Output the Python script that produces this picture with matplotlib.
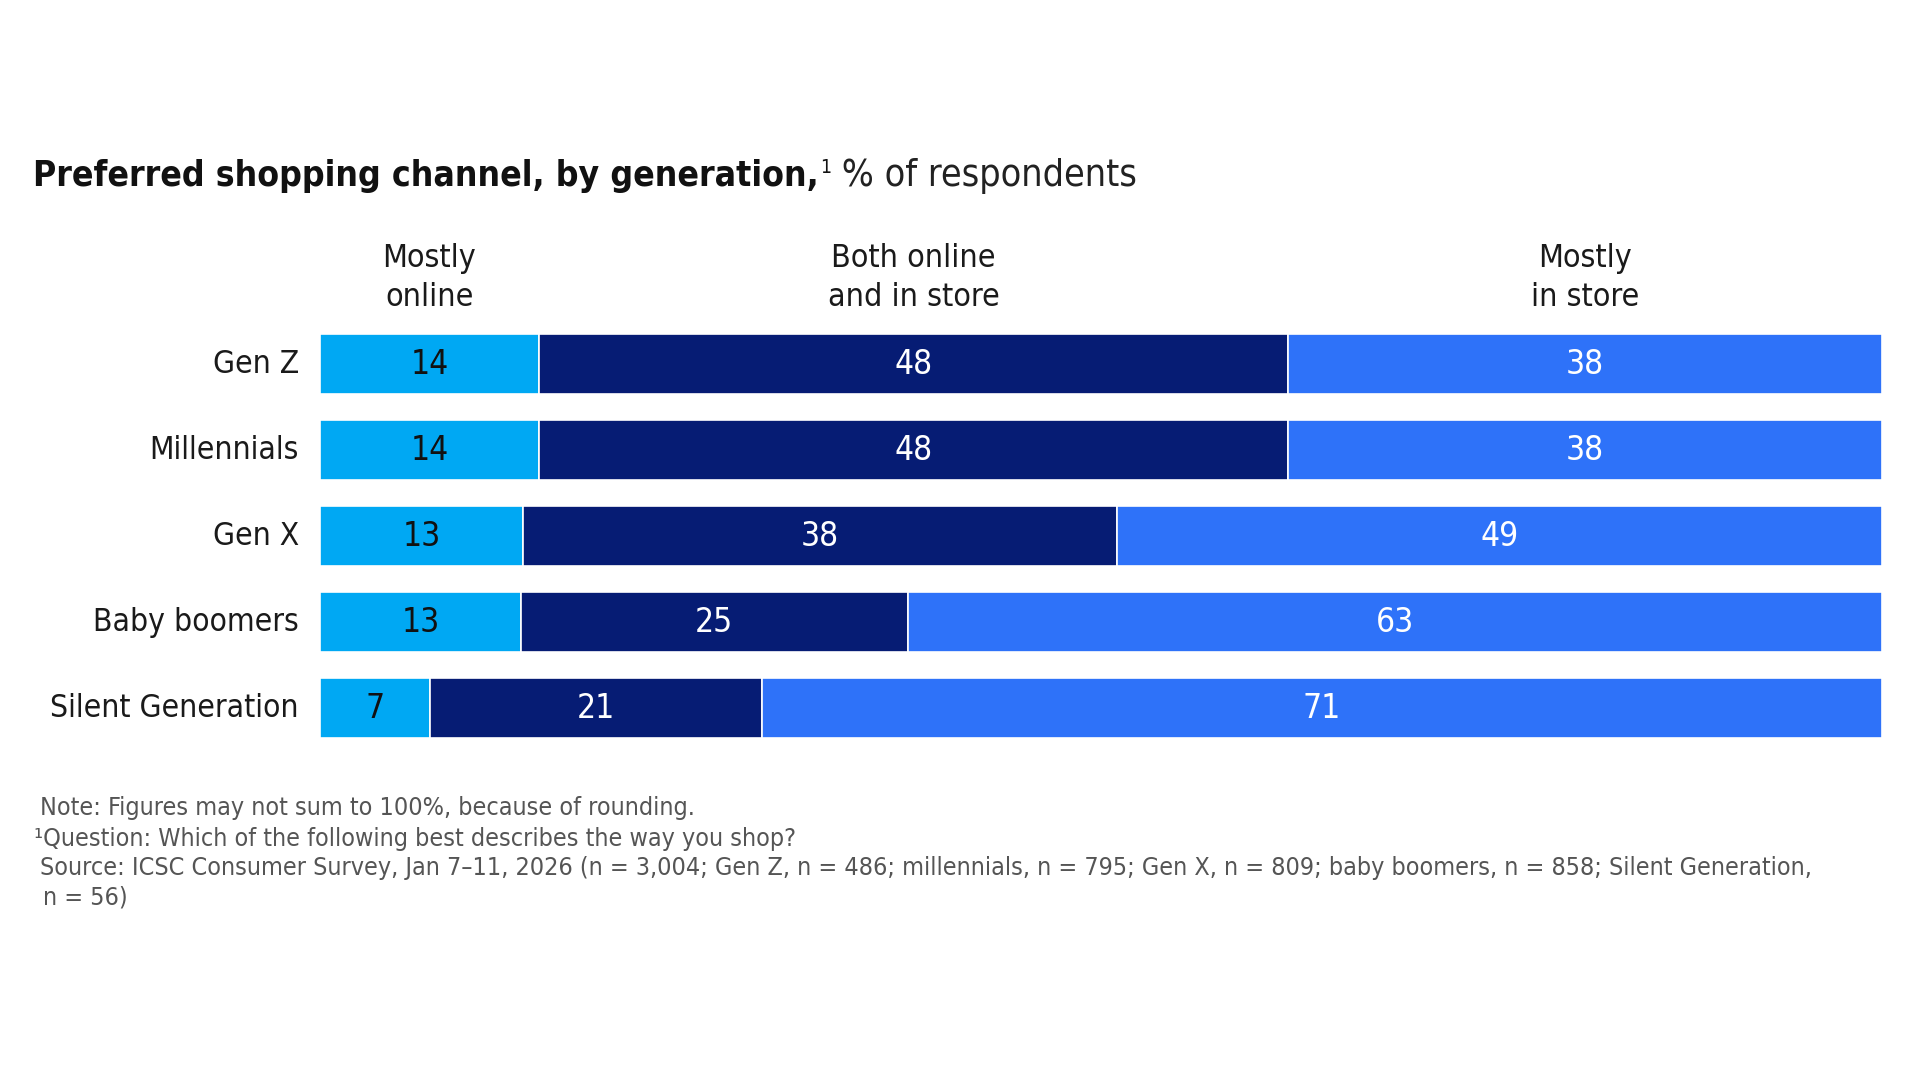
import matplotlib
matplotlib.use("Agg")
import matplotlib.pyplot as plt
from matplotlib.transforms import blended_transform_factory
import numpy as np

# ---- data ----
generations = ["Gen Z", "Millennials", "Gen X", "Baby boomers", "Silent Generation"]
mostly_online = [14, 14, 13, 13, 7]
both_channels = [48, 48, 38, 25, 21]
mostly_in_store = [38, 38, 49, 63, 71]
series_names = ["Mostly\nonline", "Both online\nand in store", "Mostly\nin store"]
colors = ["#00A8F3", "#061C74", "#2E72F9"]
label_colors = ["#111111", "white", "white"]

title_bold = "Preferred shopping channel, by generation,"
title_sup = "1"
title_rest = " % of respondents"
notes = [
    "Note: Figures may not sum to 100%, because of rounding.",
    "\u00b9Question: Which of the following best describes the way you shop?",
    "Source: ICSC Consumer Survey, Jan 7\u201311, 2026 (n = 3,004; Gen Z, n = 486; millennials, n = 795; Gen X, n = 809; baby boomers, n = 858; Silent Generation,",
    "n = 56)",
]

plt.rcParams["font.family"] = ["DejaVu Sans"]
plt.rcParams["font.stretch"] = "condensed"

W, H = 1920, 1080
fig = plt.figure(figsize=(W / 100, H / 100), dpi=100)
fig.patch.set_facecolor("white")

left_px, right_px = 320, 1882
top_px, bot_px = 321, 751
ax = fig.add_axes([left_px / W, 1 - bot_px / H, (right_px - left_px) / W, (bot_px - top_px) / H])

data = np.array([mostly_online, both_channels, mostly_in_store], dtype=float)
totals = data.sum(axis=0)
shares = data / totals * 100
y = np.arange(len(generations))
lefts = np.zeros(len(generations))
for i in range(3):
    ax.barh(y, shares[i], left=lefts, height=0.70, color=colors[i],
            edgecolor="white", linewidth=1.2)
    for j in range(len(generations)):
        ax.text(lefts[j] + shares[i][j] / 2, y[j], f"{int(data[i][j])}",
                ha="center", va="center", fontsize=24, color=label_colors[i])
    lefts = lefts + shares[i]

ax.set_xlim(0, 100)
ax.set_ylim(len(generations) - 0.5, -0.5)
ax.axis("off")

# category labels
for j, g in enumerate(generations):
    ax.text(-1.35, y[j], g, ha="right", va="center",
            fontsize=22.8, color="#1a1a1a")

# column headers centered on first row's segments
tr = blended_transform_factory(ax.transData, fig.transFigure)
cum = 0
for i in range(3):
    cx = cum + shares[i][0] / 2
    ax.text(cx, 1 - 278 / H, series_names[i], transform=tr, ha="center", va="center",
            fontsize=23, color="#1a1a1a", linespacing=1.35)
    cum += shares[i][0]

# title
fig.canvas.draw()
renderer = fig.canvas.get_renderer()
ty = 1 - 186 / H
t1 = fig.text(33 / W, ty, title_bold, fontsize=25.5, fontweight="bold", va="baseline",
              color="#111111")
bb = t1.get_window_extent(renderer)
t2 = fig.text(bb.x1 / W + 1 / W, ty + 13 / H, title_sup, fontsize=14, va="baseline",
              color="#111111")
bb2 = t2.get_window_extent(renderer)
fig.text(bb2.x1 / W, ty, title_rest, fontsize=27, va="baseline", color="#222222")

# footnotes
note_y = [808, 839, 868, 898]
for k, (txt, yy) in enumerate(zip(notes, note_y)):
    x0 = 40 if k != 1 else 34
    if k == 3:
        x0 = 43
    fig.text(x0 / W, 1 - yy / H, txt, fontsize=18, va="center", color="#555555")

fig.savefig("out.png", dpi=100, facecolor="white")
